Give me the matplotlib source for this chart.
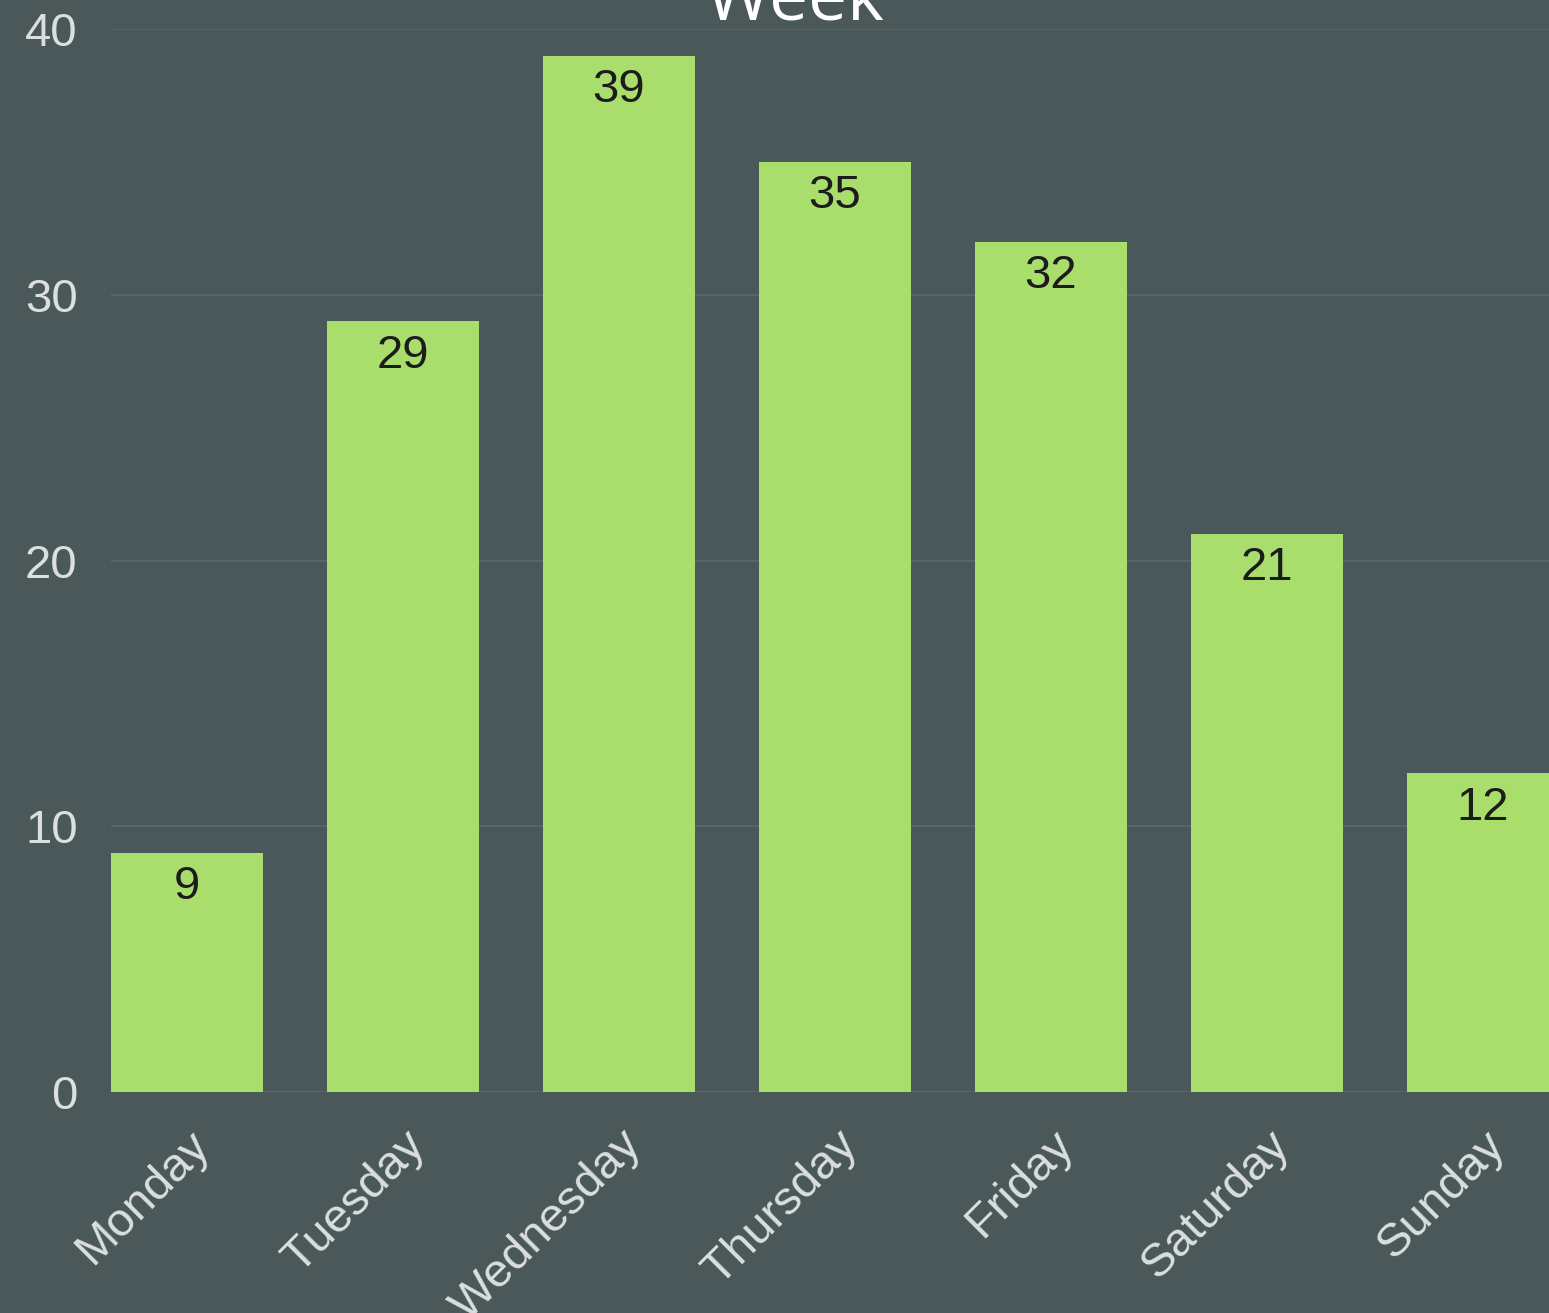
import numpy as np
import matplotlib
matplotlib.use("Agg")
from matplotlib import pyplot as plt

days = ['Monday', 'Tuesday', 'Wednesday', 'Thursday', 'Friday', 'Saturday', 'Sunday']
counts = [9, 29, 39, 35, 32, 21, 12]
yticks = [0, 10, 20, 30, 40]

bg = '#4a5859'
bar_col = '#a9dd6c'
grid_col = '#5a696a'
txt_col = '#dcdfdf'

plt.rcParams['font.family'] = ['Liberation Sans', 'DejaVu Sans']

fig = plt.figure(figsize=(15.49, 13.13), dpi=100, facecolor=bg)
ax = fig.add_axes([111/1549, 221/1313, 1 - 111/1549, (1284 - 221)/1313])
ax.set_facecolor(bg)

x = np.arange(len(days))
bars = ax.bar(x, counts, width=0.704, color=bar_col, zorder=2)

for xi, v in zip(x, counts):
    ax.annotate(str(v), (xi, v), xytext=(0, -9), textcoords='offset points',
                ha='center', va='top', fontsize=34, color='#1c1c1c', zorder=3)

ax.set_xlim(-0.352, 6.306)
ax.set_ylim(0, 40)
ax.set_yticks(yticks)
ax.set_xticks(x)
ax.set_xticklabels(days, rotation=45, ha='right', rotation_mode='anchor')
ax.tick_params(axis='both', length=0, labelsize=34, labelcolor=txt_col)
ax.tick_params(axis='y', pad=24)
ax.tick_params(axis='x', pad=22)
ax.grid(axis='y', color=grid_col, linewidth=1.2, zorder=0)
for s in ax.spines.values():
    s.set_visible(False)
ax.axhline(0, color=grid_col, linewidth=1.2, zorder=1)

fig.text(795/1549, 1 - 20/1313, 'Week', ha='center', va='baseline',
         fontsize=50, color='white', family=['Open Sans', 'DejaVu Sans'])

plt.savefig('out.png', dpi=100, facecolor=bg)
